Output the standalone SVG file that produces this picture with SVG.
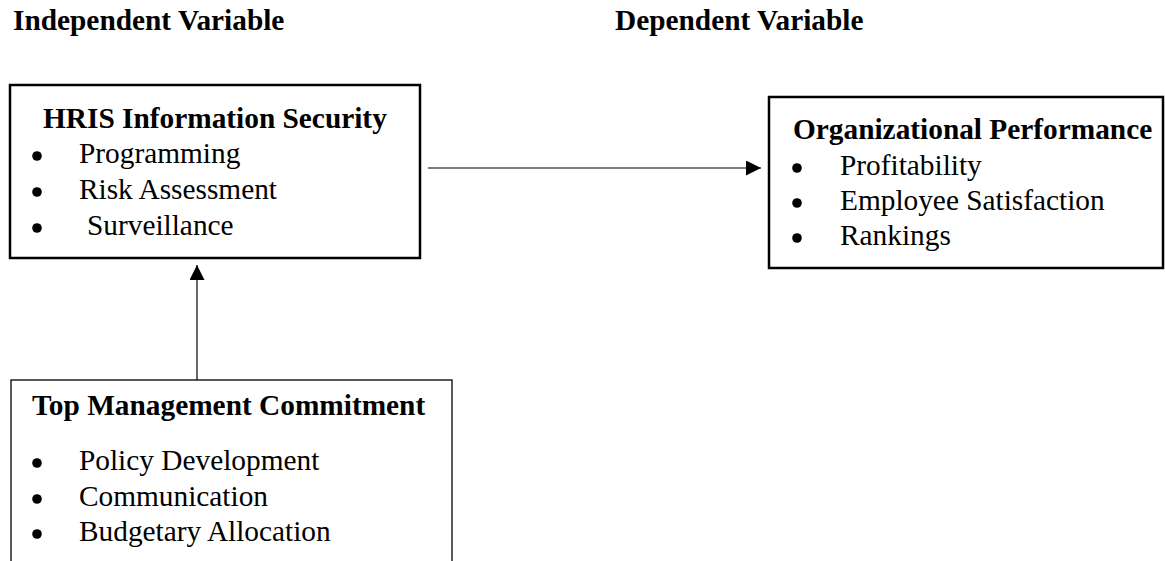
<svg xmlns="http://www.w3.org/2000/svg" width="1165" height="561" viewBox="0 0 1165 561">
<style>
  text { font-family: "Liberation Serif", "Times New Roman", serif; font-size: 29.33px; fill: #000; }
  .b { font-weight: bold; }
  .box { fill: #fff; stroke: #000; stroke-width: 2.5; }
  .thin { fill: #fff; stroke: #000; stroke-width: 1.3; }
  .conn { stroke: #000; stroke-width: 1.2; fill: none; }
  .dot { fill: #000; }
</style>
<defs>
  <marker id="ah" viewBox="0 0 10 10" refX="10" refY="5" markerWidth="15" markerHeight="15" markerUnits="userSpaceOnUse" orient="auto">
    <path d="M0,0 L10,5 L0,10 Z" fill="#000"/>
  </marker>
</defs>
<rect width="1165" height="561" fill="#fff"/>
<g id="headers">
  <text class="b" x="13" y="30">Independent Variable</text>
  <text class="b" x="615" y="30">Dependent Variable</text>
</g>
<g id="connectors">
  <line class="conn" x1="428" y1="168" x2="761" y2="168" marker-end="url(#ah)"/>
  <line class="conn" x1="197" y1="380" x2="197" y2="265" marker-end="url(#ah)"/>
</g>
<g id="hris">
  <rect class="box" x="10" y="85" width="410" height="173"/>
  <text class="b" x="43" y="128">HRIS Information Security</text>
  <circle class="dot" cx="37" cy="156" r="4.8"/><text x="79" y="163">Programming</text>
  <circle class="dot" cx="37" cy="192" r="4.8"/><text x="79" y="199">Risk Assessment</text>
  <circle class="dot" cx="37" cy="228" r="4.8"/><text x="87" y="235">Surveillance</text>
</g>
<g id="performance">
  <rect class="box" x="769" y="97" width="394" height="171"/>
  <text class="b" x="793" y="139">Organizational Performance</text>
  <circle class="dot" cx="797" cy="168" r="4.8"/><text x="840" y="175">Profitability</text>
  <circle class="dot" cx="797" cy="203" r="4.8"/><text x="840" y="210">Employee Satisfaction</text>
  <circle class="dot" cx="797" cy="238" r="4.8"/><text x="840" y="245">Rankings</text>
</g>
<g id="commitment">
  <rect class="thin" x="11" y="380" width="441" height="220"/>
  <text class="b" x="32" y="415">Top Management Commitment</text>
  <circle class="dot" cx="37" cy="463" r="4.8"/><text x="79" y="470">Policy Development</text>
  <circle class="dot" cx="37" cy="499" r="4.8"/><text x="79" y="506">Communication</text>
  <circle class="dot" cx="37" cy="534" r="4.8"/><text x="79" y="541">Budgetary Allocation</text>
</g>
</svg>
